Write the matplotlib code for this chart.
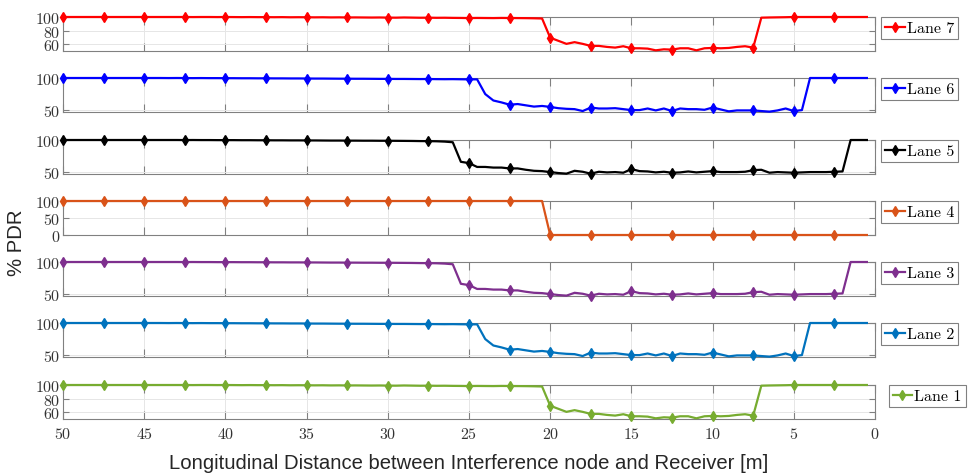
import matplotlib.pyplot as plt
import numpy as np

plt.rcParams['font.family'] = 'cmr10'
plt.rcParams['axes.formatter.use_mathtext'] = True

# distance axis: 50 m down to 0.5 m, one sample every 0.5 m
distance = np.arange(50, 0, -0.5)

lane_7 = [100, 100, 100, 100, 100, 100, 100, 100, 100, 100,
          100, 100, 100, 100, 100, 100, 99.9, 100, 100, 99.9,
          100, 99.9, 99.8, 99.9, 99.8, 99.8, 99.7, 99.8, 99.6, 99.7,
          99.6, 99.5, 99.6, 99.4, 99.5, 99.3, 99.4, 99.3, 99.2, 99.3,
          99.1, 99.0, 99.3, 99.1, 98.9, 99.0, 98.8, 98.9, 98.7, 98.6,
          98.4, 98.6, 98.5, 98.4, 98.6, 98.5, 98.4, 98.3, 98.1, 97.8,
          69.5, 65, 60.5, 63, 60.5, 57.5, 57.5, 56, 55, 57,
          54, 54, 53.5, 51, 52.5, 52, 54, 54, 51, 54,
          54.5, 54, 54.5, 56, 57, 55, 99, 99.3, 99.5, 99.7,
          100, 100, 100, 100, 100, 100, 100, 100, 100, 100]

lane_6 = [100, 100, 100, 100, 100, 100, 100, 100, 100, 100,
          100, 100, 100, 99.9, 100, 99.9, 99.8, 99.9, 99.8, 99.8,
          99.7, 99.7, 99.6, 99.6, 99.5, 99.5, 99.4, 99.4, 99.3, 99.3,
          99.2, 99.1, 99.1, 99.0, 98.9, 98.9, 98.8, 98.8, 98.7, 98.6,
          98.6, 98.5, 98.5, 98.4, 98.3, 98.4, 98.2, 98.1, 98.2, 98.0,
          97.8, 97.9, 74.7, 64.6, 61.6, 58, 59, 57, 55, 56,
          54.5, 52.5, 51.5, 51, 48, 53.5, 52, 52, 52.5, 51,
          49.5, 49.5, 52, 49, 52, 48, 52, 51, 51, 50,
          53.5, 50.5, 47.5, 49, 49, 49, 48, 47, 49, 52,
          48, 49.5, 100, 100, 100, 100, 100, 100, 100, 100]

lane_5 = [100, 100, 100, 100, 100, 100, 100, 100, 100, 100,
          100, 100, 100, 100, 100, 99.9, 100, 99.9, 99.9, 99.8,
          99.8, 99.8, 99.7, 99.7, 99.6, 99.6, 99.5, 99.5, 99.4, 99.4,
          99.3, 99.3, 99.2, 99.1, 99.1, 99.0, 99.0, 98.9, 98.9, 98.8,
          98.8, 98.7, 98.6, 98.5, 98.3, 98.2, 98.0, 97.5, 96.5, 66,
          64, 58, 58, 57, 57, 55.7, 55.7, 53.6, 52, 51.5,
          50, 48.5, 47.5, 52, 50.5, 47.5, 50.5, 49.5, 50, 49,
          54.6, 51.5, 51, 49.5, 50.5, 49, 49.5, 51, 49.5, 50.5,
          51.5, 50, 50, 50, 50.5, 53, 53.6, 49, 50, 49.5,
          49, 49.5, 50, 50, 50, 50.5, 51, 100, 100, 100]

lane_4 = [100] * 60 + [0] * 40

# lanes 3, 2 and 1 show the same curves as lanes 5, 6 and 7
lane_3 = list(lane_5)
lane_2 = list(lane_6)
lane_1 = list(lane_7)

lanes = ['Lane 7', 'Lane 6', 'Lane 5', 'Lane 4', 'Lane 3', 'Lane 2', 'Lane 1']
values = [lane_7, lane_6, lane_5, lane_4, lane_3, lane_2, lane_1]
colors = ['#FF0000', '#0000FF', '#000000', '#D95319', '#7E2F8E', '#0072BD', '#77AC30']
yticks = [[60, 80, 100], [50, 100], [50, 100], [0, 50, 100], [50, 100], [50, 100], [60, 80, 100]]
ylims = [(50, 100), (46.5, 100), (47, 100), (0, 100), (47, 100), (46.5, 100), (50, 100)]

W, H = 968, 477
fig = plt.figure(figsize=(W / 100, H / 100), dpi=100)

tops = [18, 79, 141, 202, 263, 324, 386]
left, right, h = 63, 875, 34

for k in range(7):
    ax = fig.add_axes([left / W, 1 - (tops[k] + h) / H, (right - left) / W, h / H])
    ax.plot(distance, values[k], color=colors[k], lw=1.6, marker='d', ms=5.5,
            markevery=5, label=lanes[k], clip_on=False, zorder=3)
    ax.set_xlim(50, 0)
    ax.set_ylim(*ylims[k])
    ax.set_xticks(np.arange(0, 51, 5))
    ax.set_yticks(yticks[k])
    ax.grid(True, color='#e6e6e6', lw=0.7)
    ax.set_axisbelow(True)
    for s in ax.spines.values():
        s.set_color('#808080')
        s.set_linewidth(0.8)
    ax.tick_params(axis='both', direction='in', top=True, right=True,
                   color='#808080', labelcolor='#333333', labelsize=11.5, pad=2)
    ax.tick_params(axis='x', length=6)
    ax.tick_params(axis='y', length=4)
    if k < 6:
        ax.tick_params(axis='x', labelbottom=False)
    else:
        ax.tick_params(axis='x', pad=5)
    xoff = 1.017 if k == 6 else 1.008
    leg = ax.legend(loc='upper left', bbox_to_anchor=(xoff, 1.0), borderaxespad=0,
                    fontsize=11.5, fancybox=False, edgecolor='#808080', framealpha=1,
                    handlelength=1.2, handletextpad=0.15, borderpad=0.25)
    leg.get_frame().set_linewidth(0.8)

fig.text(469 / W, 1 - 464 / H, 'Longitudinal Distance between Interference node and Receiver [m]',
         family='Liberation Sans', fontsize=14.6, color='#262626', ha='center', va='center')
fig.text(17 / W, 1 - 243 / H, '% PDR', family='Liberation Sans', fontsize=14.6,
         color='#262626', rotation=90, ha='center', va='center')

fig.savefig('out.png', dpi=100)
